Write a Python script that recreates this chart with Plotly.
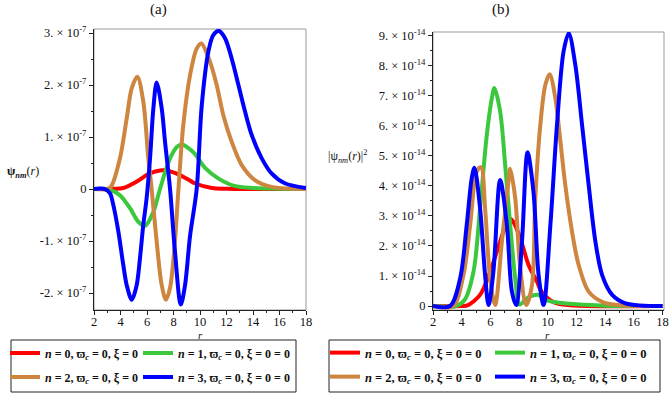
import plotly.graph_objects as go

# ---------------- data ----------------
# Panel (a): psi_nm(r), values in units of 1e-7
r_a0 = [2, 3.0, 3.5, 4.2, 5.2, 6.2, 7.1, 7.4, 8.2, 9.2, 9.6, 10.9, 12.0, 14.0, 18]
v_a0 = [0, 0, 0.005, 0.02, 0.14, 0.30, 0.36, 0.36, 0.30, 0.17, 0.11, 0.02, 0.005, 0.0, 0]

r_a1 = [2, 3.0, 3.3, 3.96, 4.72, 5.34, 5.85, 6.48, 6.98, 7.74, 8.3, 8.7, 9.1, 9.6, 10.4, 11.4, 12.6, 14.0, 18]
v_a1 = [0, 0, -0.02, -0.12, -0.37, -0.63, -0.71, -0.44, 0.0, 0.59, 0.82, 0.85, 0.79, 0.68, 0.40, 0.20, 0.06, 0.02, 0]

r_a2 = [2, 3.0, 3.3, 3.96, 4.47, 4.85, 5.27, 5.72, 6.1, 6.35, 6.73, 7.11, 7.43, 7.74, 8.11, 8.36, 8.74, 9.25, 9.75, 10.1,
        10.75, 11.26, 11.76, 12.39, 13.15, 14.15, 15.4, 18]
v_a2 = [0, 0, 0.05, 0.59, 1.36, 1.94, 2.16, 1.68, 0.59, 0.0, -1.01, -1.85, -2.13, -1.90, -1.0, -0.05, 1.23, 2.19, 2.70, 2.80,
        2.45, 2.0, 1.42, 0.91, 0.46, 0.17, 0.04, 0]

r_a3 = [2, 2.8, 3.2, 3.46, 3.84, 4.21, 4.47, 4.85, 5.22, 5.47, 5.72, 5.97, 6.23, 6.48, 6.73, 7.11, 7.36, 7.74, 8.11, 8.55,
        8.87, 9.25, 9.75, 10.13, 10.63, 11.0, 11.43, 11.89, 12.39, 12.9, 13.4, 13.9, 14.66, 15.4, 16.4, 18]
v_a3 = [0, 0, -0.08, -0.31, -0.82, -1.46, -1.85, -2.13, -1.85, -1.33, -0.69, -0.18, 0.59, 1.55, 2.05, 1.55, 0.91, 0.0, -1.2, -2.22,
        -1.85, -0.9, 0.0, 1.6, 2.64, 2.96, 3.04, 2.9, 2.51, 2.0, 1.49, 1.04, 0.59, 0.30, 0.11, 0.02]

# Panel (b): |psi_nm(r)|^2, values in units of 1e-14
r_b0 = [2, 4.0, 4.4, 5.28, 5.98, 6.45, 6.91, 7.3, 7.6, 8.08, 8.66, 9.25, 9.6, 10.53, 11.9, 18]
v_b0 = [0, 0, 0.02, 0.37, 1.14, 1.81, 2.48, 2.92, 2.8, 2.26, 1.37, 0.81, 0.45, 0.10, 0.02, 0]

r_b1 = [2, 3.6, 4.2, 4.82, 5.28, 5.75, 6.1, 6.28, 6.68, 7.03, 7.38, 7.73, 8.03, 8.55, 9.0, 9.36, 9.83, 11.0, 12.6, 14.0, 18]
v_b1 = [0, 0, 0.2, 1.14, 3.26, 5.7, 6.92, 7.26, 6.48, 4.7, 2.7, 0.92, 0.05, 0.26, 0.36, 0.37, 0.2, 0.1, 0.04, 0.01, 0]

r_b2 = [2, 3.4, 4.12, 4.59, 5.05, 5.35, 5.63, 5.98, 6.33, 6.8, 7.26, 7.38, 7.73, 8.08, 8.5, 8.9, 9.13, 9.48, 9.83, 10.13,
        10.53, 10.88, 11.22, 11.69, 12.15, 12.85, 13.79, 14.9, 18]
v_b2 = [0, 0, 1.03, 2.7, 4.48, 4.62, 3.26, 0.92, 0.03, 2.14, 4.14, 4.57, 3.59, 1.26, 0.03, 0.7, 3.59, 6.03, 7.37, 7.72,
        6.92, 5.48, 4.03, 2.48, 1.37, 0.48, 0.14, 0.03, 0]

r_b3 = [2, 3.19, 3.89, 4.35, 4.7, 4.89, 5.28, 5.63, 5.87, 6.21, 6.68, 7.15, 7.5, 7.8, 8.2, 8.59, 9.0, 9.36, 9.71, 10.18,
        10.64, 11.1, 11.46, 11.92, 12.39, 12.85, 13.32, 13.79, 14.49, 15.42, 18]
v_b3 = [0, 0, 0.92, 2.7, 4.26, 4.61, 3.26, 1.03, 0.03, 1.14, 4.2, 2.7, 0.48, 0.03, 2.14, 5.12, 3.81, 1.03, 0.03, 2.7,
        6.03, 8.48, 9.09, 8.03, 6.03, 4.03, 2.14, 1.03, 0.37, 0.09, 0]

SCALE_A = 1e-7
SCALE_B = 1e-14

names_a = ["<i>n</i> = 0, ϖ<sub><i>c</i></sub> = 0, ξ = 0",
           "<i>n</i> = 1, ϖ<sub><i>c</i></sub> = 0, ξ = 0 = 0",
           "<i>n</i> = 2, ϖ<sub><i>c</i></sub> = 0, ξ = 0",
           "<i>n</i> = 3, ϖ<sub><i>c</i></sub> = 0, ξ = 0 = 0"]
names_b = ["<i>n</i> = 0, ϖ<sub><i>c</i></sub> = 0, ξ = 0 = 0",
           "<i>n</i> = 1, ϖ<sub><i>c</i></sub> = 0, ξ = 0 = 0",
           "<i>n</i> = 2, ϖ<sub><i>c</i></sub> = 0, ξ = 0 = 0",
           "<i>n</i> = 3, ϖ<sub><i>c</i></sub> = 0, ξ = 0 = 0"]
colors = ["#ff0000", "#3cc83c", "#cd853f", "#0000ff"]

ytick_a = [-2, -1, 0, 1, 2, 3]
ytext_a = ["-2. × 10<sup>-7</sup>", "-1. × 10<sup>-7</sup>", "0",
           "1. × 10<sup>-7</sup>", "2. × 10<sup>-7</sup>", "3. × 10<sup>-7</sup>"]
ytick_b = [0, 1, 2, 3, 4, 5, 6, 7, 8, 9]
ytext_b = ["0"] + [f"{k}. × 10<sup>-14</sup>" for k in range(1, 10)]
xticks = [2, 4, 6, 8, 10, 12, 14, 16, 18]

# ---------------- figure ----------------
W, H = 669, 394
FONT = "Liberation Serif"
fig = go.Figure()


def px_x(p):
    return p / W


def px_y(p):
    return 1 - p / H


data_a = [(r_a0, v_a0), (r_a1, v_a1), (r_a2, v_a2), (r_a3, v_a3)]
data_b = [(r_b0, v_b0), (r_b1, v_b1), (r_b2, v_b2), (r_b3, v_b3)]

# legend slot positions (pixel left of entry, pixel center y of row)
slots_a = [(5, 353), (138, 353), (5, 377), (138, 377)]
slots_b = [(325, 353), (490, 353), (325, 377), (490, 377)]

legend_layouts = {}
k = 0
for panel, data, names, slots, scale, xa, ya, fs in (
        ("a", data_a, names_a, slots_a, SCALE_A, "x", "y", 12),
        ("b", data_b, names_b, slots_b, SCALE_B, "x2", "y2", 12.5)):
    for (r, v), nm, c, (lx, ly) in zip(data, names, colors, slots):
        k += 1
        lname = "legend" if k == 1 else f"legend{k}"
        fig.add_trace(go.Scatter(x=r, y=[a * scale for a in v], mode="lines", name=nm,
                                 line=dict(color=c, width=4, shape="spline", smoothing=0.9),
                                 xaxis=xa, yaxis=ya, legend=lname))
        legend_layouts[lname] = dict(
            x=px_x(lx), y=px_y(ly), xanchor="left", yanchor="middle",
            bgcolor="rgba(0,0,0,0)", borderwidth=0, itemwidth=30,
            font=dict(family=FONT, size=fs, color="#111", weight="bold"))

axis_common = dict(showline=True, linecolor="#222", linewidth=1, ticks="outside", ticklen=4,
                   tickcolor="#222", showgrid=False, zeroline=False,
                   tickfont=dict(family=FONT, size=12.5, color="#111"))
minor_x = dict(dtick=1, tick0=0, ticks="outside", ticklen=2, tickcolor="#222")

fig.update_layout(
    width=W, height=H, margin=dict(l=0, r=0, t=0, b=0, autoexpand=False),
    paper_bgcolor="white", plot_bgcolor="white",
    font=dict(family=FONT, color="#111"),
    showlegend=True,
    xaxis=dict(domain=[px_x(94), px_x(306)], range=[2, 18], tickvals=xticks, ticklabelstandoff=-4,
               minor=minor_x, anchor="y", **axis_common),
    yaxis=dict(domain=[px_y(310), px_y(29)], range=[-2.327e-7, 3.077e-7],
               tickvals=[t * SCALE_A for t in ytick_a], ticktext=ytext_a,
               minor=dict(dtick=0.5e-7, tick0=0, ticks="outside", ticklen=2, tickcolor="#222"),
               anchor="x", **axis_common),
    xaxis2=dict(domain=[px_x(433), px_x(664)], range=[2, 18.1], tickvals=xticks, ticklabelstandoff=-4,
                minor=minor_x, anchor="y2", **axis_common),
    yaxis2=dict(domain=[px_y(310), px_y(32)], range=[-0.133e-14, 9.13e-14],
                tickvals=[t * SCALE_B for t in ytick_b], ticktext=ytext_b,
                minor=dict(dtick=0.5e-14, tick0=0, ticks="outside", ticklen=2, tickcolor="#222"),
                anchor="x2", **axis_common),
    **legend_layouts,
)

# gray frame on top/right of each plot
for xr, yr in (("x domain", "y domain"), ("x2 domain", "y2 domain")):
    fig.add_shape(type="rect", xref=xr, yref=yr, x0=0, x1=1, y0=0, y1=1,
                  line=dict(color="#999", width=1), layer="below")

# legend boxes
for x0, x1 in ((11, 296), (329, 660)):
    fig.add_shape(type="rect", xref="paper", yref="paper",
                  x0=px_x(x0), x1=px_x(x1), y0=px_y(392), y1=px_y(340),
                  line=dict(color="#222", width=1), layer="below")

# titles and axis labels
ann = [
    dict(text="(a)", x=px_x(158), y=px_y(10), size=15),
    dict(text="(b)", x=px_x(501), y=px_y(10), size=15),
    dict(text="<b>ψ</b><b><i><sub>nm</sub></i></b>(<i>r</i>)", x=px_x(23), y=px_y(172), size=12),
    dict(text="|ψ<i><sub>nm</sub></i>(<i>r</i>)|<sup>2</sup>", x=px_x(348), y=px_y(156), size=12),
    dict(text="<i>r</i>", x=px_x(200), y=px_y(335), size=11),
    dict(text="<i>r</i>", x=px_x(547), y=px_y(335), size=11),
]
for a in ann:
    fig.add_annotation(text=a["text"], x=a["x"], y=a["y"], xref="paper", yref="paper",
                       showarrow=False, xanchor="center", yanchor="middle",
                       font=dict(family=FONT, size=a["size"], color="#111"))

fig.write_html("out.html", config={"displayModeBar": False},
               post_script="document.body.style.margin='0';document.body.style.padding='0';")
